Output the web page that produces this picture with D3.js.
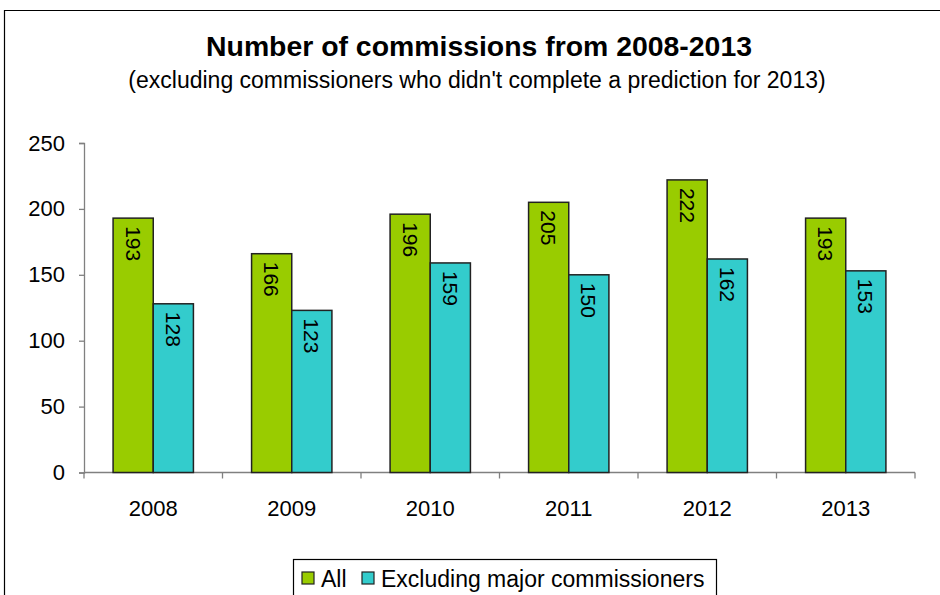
<!DOCTYPE html>
<html>
<head>
<meta charset="utf-8">
<script src="https://cdn.jsdelivr.net/npm/d3@7"></script>
<style>
  html, body { margin: 0; padding: 0; background: #fff; }
  svg { display: block; font-family: "Liberation Sans", Arial, sans-serif; }
</style>
</head>
<body>
<svg id="chart" width="940" height="595"></svg>
<script>
// Commissions per year, all commissioners vs. excluding the major ones
const years = ["2008", "2009", "2010", "2011", "2012", "2013"];
const allValues = [193, 166, 196, 205, 222, 193];
const excludingMajor = [128, 123, 159, 150, 162, 153];
const seriesNames = ["All", "Excluding major commissioners"];
const seriesColors = ["#99CC00", "#33CCCC"];
const yTicks = [0, 50, 100, 150, 200, 250];

const svg = d3.select("#chart");

// outer frame
svg.append("path")
  .attr("d", "M4.5,595 V10.5 H940")
  .attr("fill", "none").attr("stroke", "#000").attr("stroke-width", 1.2);

// titles
svg.append("text")
  .attr("x", 479).attr("y", 56)
  .attr("text-anchor", "middle")
  .attr("font-size", 28.4).attr("font-weight", "bold")
  .text("Number of commissions from 2008-2013");
svg.append("text")
  .attr("x", 477).attr("y", 88)
  .attr("text-anchor", "middle")
  .attr("font-size", 23)
  .text("(excluding commissioners who didn't complete a prediction for 2013)");

const plot = { left: 84, right: 915, top: 143, bottom: 472.5 };

const x = d3.scaleBand().domain(years).range([plot.left, plot.right]).paddingInner(0).paddingOuter(0);
const y = d3.scaleLinear().domain([0, 250]).range([plot.bottom, plot.top]);
const groupPad = 0.21;
const inner = d3.scaleBand().domain([0, 1])
  .range([x.bandwidth() * groupPad, x.bandwidth() * (1 - groupPad)]);

// y axis
const yAxis = svg.append("g")
  .attr("transform", `translate(${plot.left},0)`)
  .call(d3.axisLeft(y).tickValues(yTicks).tickSize(5).tickPadding(14));
yAxis.selectAll("text").attr("font-size", 22).attr("fill", "#000")
  .attr("font-family", "Liberation Sans, Arial, sans-serif");
yAxis.selectAll("line, path").attr("stroke", "#808080").attr("stroke-width", 1.3);

// x axis: ticks at category boundaries
const xg = svg.append("g").attr("transform", `translate(0,${plot.bottom})`);
xg.append("line").attr("x1", plot.left).attr("x2", plot.right)
  .attr("stroke", "#808080").attr("stroke-width", 1.3);
xg.selectAll("line.tick").data(years.concat(["end"])).join("line")
  .attr("class", "tick")
  .attr("x1", (d, i) => plot.left + i * x.step())
  .attr("x2", (d, i) => plot.left + i * x.step())
  .attr("y1", 0).attr("y2", 6)
  .attr("stroke", "#808080").attr("stroke-width", 1.3);
xg.selectAll("text").data(years).join("text")
  .attr("x", d => x(d) + x.bandwidth() / 2)
  .attr("y", 43)
  .attr("text-anchor", "middle")
  .attr("font-size", 22)
  .text(d => d);

// bars
const rows = years.map((yr, i) => ({ year: yr, values: [allValues[i], excludingMajor[i]] }));
const groups = svg.selectAll("g.year").data(rows).join("g")
  .attr("class", "year")
  .attr("transform", d => `translate(${x(d.year)},0)`);

groups.selectAll("rect").data(d => d.values.map((v, s) => ({ v, s }))).join("rect")
  .attr("x", d => inner(d.s))
  .attr("y", d => y(d.v))
  .attr("width", inner.bandwidth())
  .attr("height", d => y(0) - y(d.v))
  .attr("fill", d => seriesColors[d.s])
  .attr("stroke", "#222").attr("stroke-width", 1.5);

// value labels, rotated, inside the top of each bar
groups.selectAll("text").data(d => d.values.map((v, s) => ({ v, s }))).join("text")
  .attr("transform", d => `translate(${inner(d.s) + inner.bandwidth() / 2 - 7.5},${y(d.v) + 8}) rotate(90)`)
  .attr("font-size", 21)
  .attr("text-anchor", "start")
  .text(d => d.v);

// legend
const legend = svg.append("g");
legend.append("rect")
  .attr("x", 293.5).attr("y", 559.5).attr("width", 423).attr("height", 45)
  .attr("fill", "#fff").attr("stroke", "#000").attr("stroke-width", 1.2);
const legendItems = [{ x: 302, tx: 321 }, { x: 362, tx: 381 }];
seriesNames.forEach((name, i) => {
  legend.append("rect")
    .attr("x", legendItems[i].x).attr("y", 572)
    .attr("width", 12).attr("height", 12)
    .attr("fill", seriesColors[i]).attr("stroke", "#222").attr("stroke-width", 1.2);
  legend.append("text")
    .attr("x", legendItems[i].tx).attr("y", 587)
    .attr("font-size", 23)
    .text(name);
});
</script>
</body>
</html>
